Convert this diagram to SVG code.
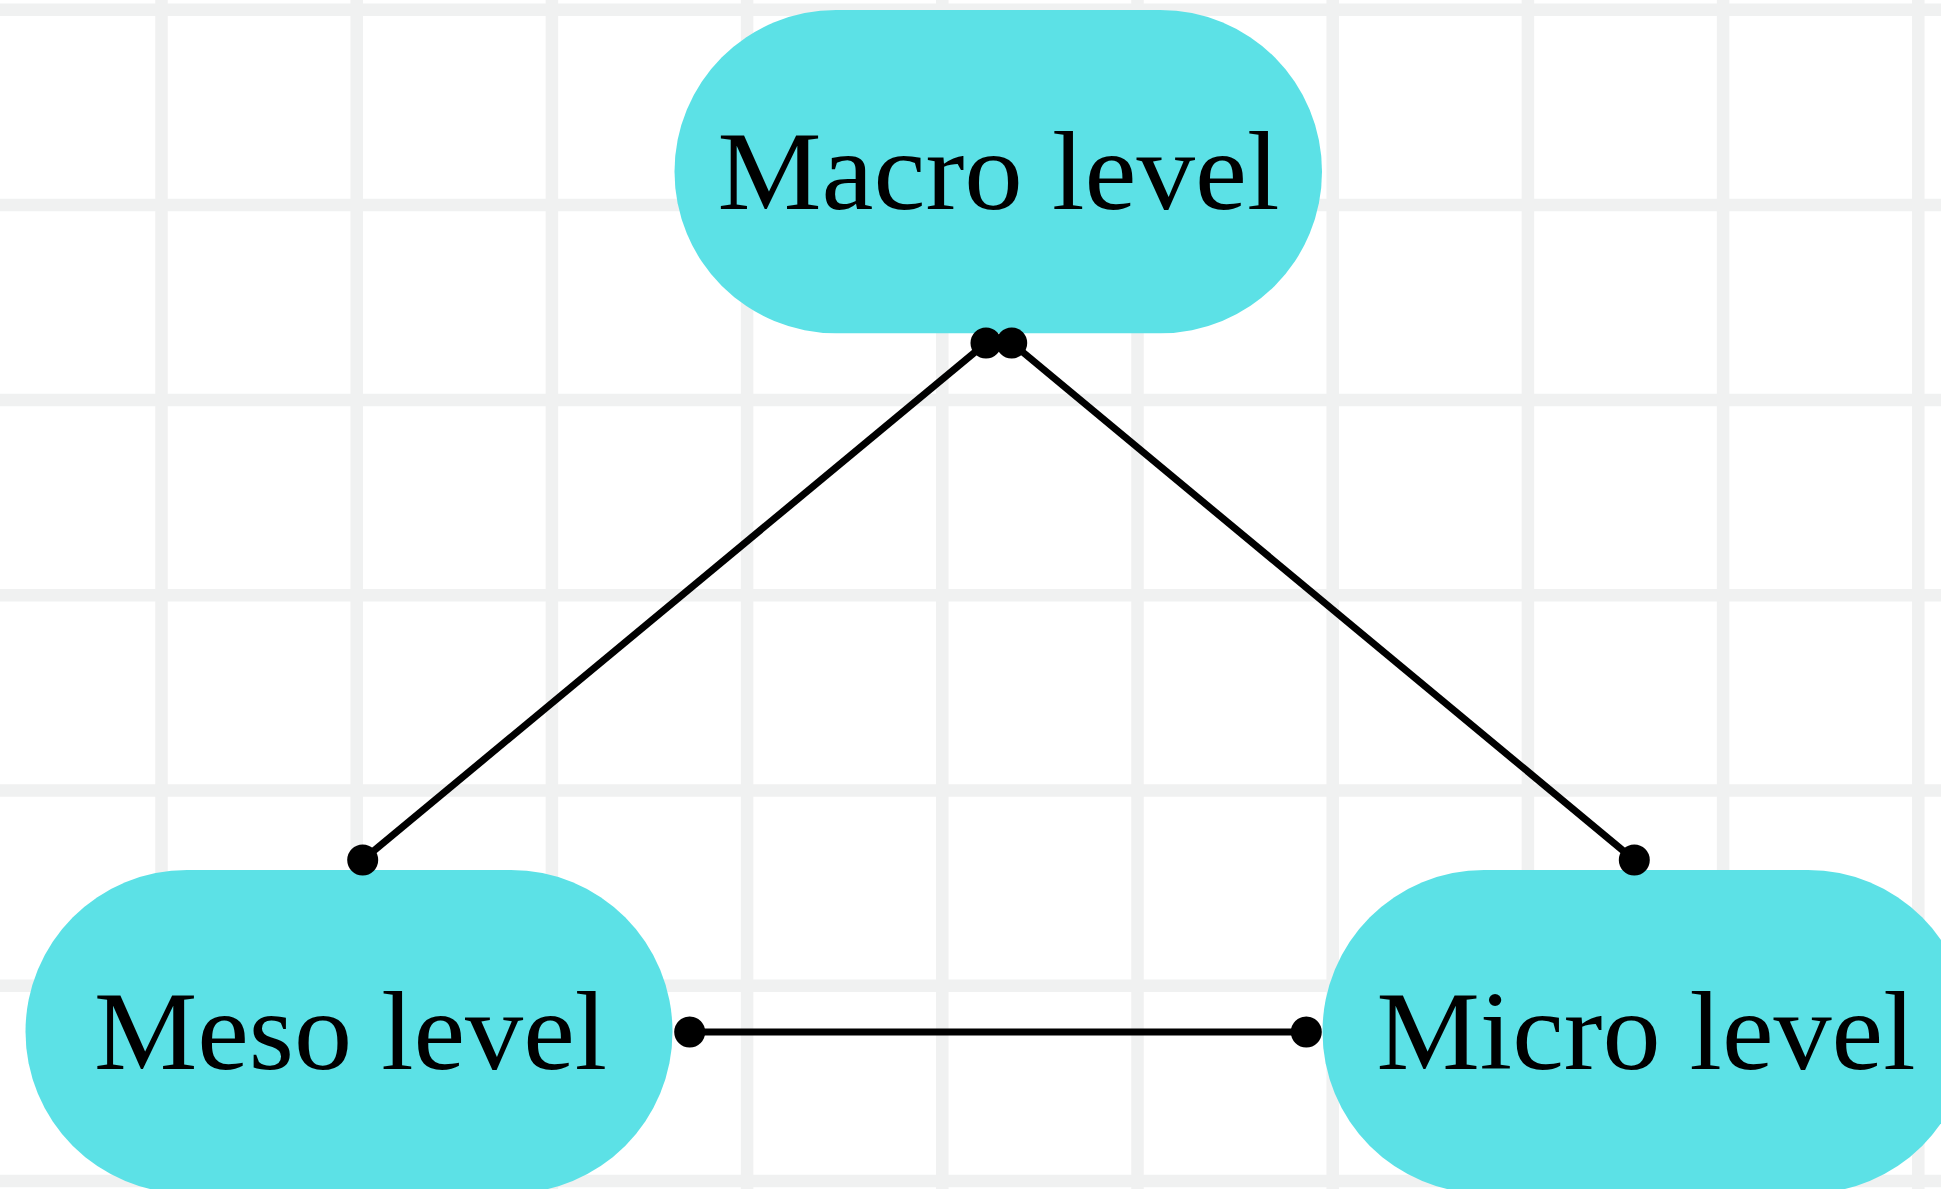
<svg xmlns="http://www.w3.org/2000/svg" width="1941" height="1189" viewBox="0 0 1941 1189">
<style>
.grid line{stroke:#f0f1f1;stroke-width:12.5}
.node rect{fill:#5ce1e6}
.node text{font-family:"Liberation Serif","Times New Roman",serif;font-size:113px;fill:#000;text-anchor:middle}
.edge line{stroke:#000;stroke-width:7}
.edge circle{fill:#000}
</style>
<rect width="1941" height="1189" fill="#fff"/>
<g class="grid">
<line x1="161.5" y1="0" x2="161.5" y2="1189"/>
<line x1="356.7" y1="0" x2="356.7" y2="1189"/>
<line x1="551.9" y1="0" x2="551.9" y2="1189"/>
<line x1="747.1" y1="0" x2="747.1" y2="1189"/>
<line x1="942.3" y1="0" x2="942.3" y2="1189"/>
<line x1="1137.5" y1="0" x2="1137.5" y2="1189"/>
<line x1="1332.7" y1="0" x2="1332.7" y2="1189"/>
<line x1="1527.9" y1="0" x2="1527.9" y2="1189"/>
<line x1="1723.1" y1="0" x2="1723.1" y2="1189"/>
<line x1="1918.3" y1="0" x2="1918.3" y2="1189"/>
<line x1="0" y1="9.7" x2="1941" y2="9.7"/>
<line x1="0" y1="204.9" x2="1941" y2="204.9"/>
<line x1="0" y1="400.1" x2="1941" y2="400.1"/>
<line x1="0" y1="595.3" x2="1941" y2="595.3"/>
<line x1="0" y1="790.5" x2="1941" y2="790.5"/>
<line x1="0" y1="985.7" x2="1941" y2="985.7"/>
<line x1="0" y1="1180.9" x2="1941" y2="1180.9"/>
</g>
<g id="macro" class="node">
<rect x="674.5" y="10" width="647.5" height="323.3" rx="161.6" ry="161.6"/>
<text x="998.5" y="209" textLength="562" lengthAdjust="spacingAndGlyphs">Macro level</text>
</g>
<g id="meso" class="node">
<rect x="25.5" y="870" width="647" height="323.3" rx="161.6" ry="161.6"/>
<text x="350.5" y="1069" textLength="513" lengthAdjust="spacingAndGlyphs">Meso level</text>
</g>
<g id="micro" class="node">
<rect x="1322.5" y="870" width="647" height="323.3" rx="161.6" ry="161.6"/>
<text x="1646" y="1069" textLength="539" lengthAdjust="spacingAndGlyphs">Micro level</text>
</g>
<g id="connectors" class="edge">
<line x1="986" y1="343" x2="362.7" y2="860"/>
<circle cx="986" cy="343" r="15.5"/>
<circle cx="362.7" cy="860" r="15.5"/>
<line x1="1011.7" y1="343" x2="1634.3" y2="860"/>
<circle cx="1011.7" cy="343" r="15.5"/>
<circle cx="1634.3" cy="860" r="15.5"/>
<line x1="689.7" y1="1032" x2="1306.3" y2="1032"/>
<circle cx="689.7" cy="1032" r="15.5"/>
<circle cx="1306.3" cy="1032" r="15.5"/>
</g>
</svg>
